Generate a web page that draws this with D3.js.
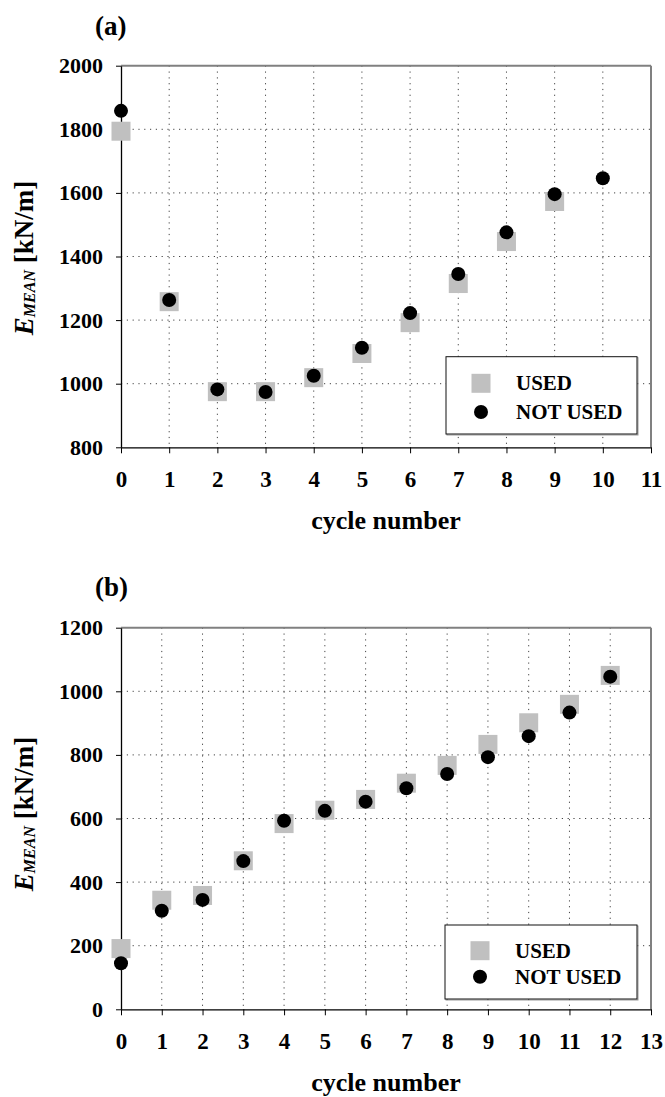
<!DOCTYPE html>
<html>
<head>
<meta charset="utf-8">
<script src="https://cdn.jsdelivr.net/npm/d3@7"></script>
<style>
  body { margin: 0; background: #fff; }
  svg text { font-family: "Liberation Serif", "Times New Roman", Times, serif; font-weight: bold; fill: #000; }
</style>
</head>
<body>
<div id="fig"></div>
<script>
// --------------------------------------
// Data
const cyclesA = [0, 1, 2, 3, 4, 5, 6, 7, 8, 9, 10];
const usedA = [1794, 1258, 975, 975, 1019, 1095, 1192, 1315, 1447, 1573]; // no value at cycle 10
const notUsedA = [1858, 1263, 982, 974, 1025, 1113, 1222, 1345, 1476, 1596, 1646];
const yTicksA = [800, 1000, 1200, 1400, 1600, 1800, 2000];
const xTicksA = [0, 1, 2, 3, 4, 5, 6, 7, 8, 9, 10, 11];

const cyclesB = [0, 1, 2, 3, 4, 5, 6, 7, 8, 9, 10, 11, 12];
const usedB = [191, 343, 358, 467, 584, 626, 660, 711, 767, 833, 901, 959, 1050];
const notUsedB = [145, 310, 344, 466, 593, 624, 653, 695, 740, 793, 859, 933, 1046];
const yTicksB = [0, 200, 400, 600, 800, 1000, 1200];
const xTicksB = [0, 1, 2, 3, 4, 5, 6, 7, 8, 9, 10, 11, 12, 13];

const legendLabels = ["USED", "NOT USED"];

const params = {
    elementId: "#fig",
    width: 665,
    height: 1097,
}

class panelChart {
    constructor(svg, p) {
        // plot area
        const left = 121, right = 651;
        const g = svg.append("g");

        const x = d3.scaleLinear().domain([p.xTicks[0], p.xTicks[p.xTicks.length - 1]]).range([left, right]);
        const y = d3.scaleLinear().domain([p.yTicks[0], p.yTicks[p.yTicks.length - 1]]).range([p.bottom, p.top]);

        // dotted grid
        g.append("g").selectAll("line")
            .data(p.xTicks.slice(1, -1))
            .join("line")
            .attr("x1", d => x(d)).attr("x2", d => x(d))
            .attr("y1", p.top).attr("y2", p.bottom)
            .attr("stroke", "#444").attr("stroke-width", 1)
            .attr("stroke-dasharray", "1.2,4.6");
        g.append("g").selectAll("line")
            .data(p.yTicks.slice(1, -1))
            .join("line")
            .attr("x1", left).attr("x2", right)
            .attr("y1", d => y(d)).attr("y2", d => y(d))
            .attr("stroke", "#444").attr("stroke-width", 1)
            .attr("stroke-dasharray", "1.2,4.6");

        // top and right frame in gray
        g.append("line").attr("x1", left).attr("x2", right).attr("y1", p.top).attr("y2", p.top)
            .attr("stroke", "#808080").attr("stroke-width", 2);
        g.append("line").attr("x1", right).attr("x2", right).attr("y1", p.top).attr("y2", p.bottom)
            .attr("stroke", "#808080").attr("stroke-width", 2);

        // axes
        const yAxis = g.append("g")
            .attr("transform", "translate(" + left + ",0)")
            .call(d3.axisLeft(y).tickValues(p.yTicks).tickFormat(d3.format("d"))
                .tickSizeInner(5).tickSizeOuter(0).tickPadding(13));
        yAxis.selectAll("text").style("font-size", "22px");
        const xAxis = g.append("g")
            .attr("transform", "translate(0," + p.bottom + ")")
            .call(d3.axisBottom(x).tickValues(p.xTicks).tickFormat(d3.format("d"))
                .tickSizeInner(6).tickSizeOuter(0).tickPadding(17));
        xAxis.selectAll("text").style("font-size", "23px");
        g.selectAll(".domain").attr("stroke", "#000").attr("stroke-width", 1.3);
        g.selectAll(".tick line").attr("stroke", "#000");

        // markers: squares first, dots on top
        const sq = 19;
        g.append("g").selectAll("rect")
            .data(p.used.map((v, i) => [p.cycles[i], v]))
            .join("rect")
            .attr("x", d => x(d[0]) - sq / 2)
            .attr("y", d => y(d[1]) - sq / 2)
            .attr("width", sq).attr("height", sq)
            .attr("fill", "#c0c0c0");
        g.append("g").selectAll("circle")
            .data(p.notUsed.map((v, i) => [p.cycles[i], v]))
            .join("circle")
            .attr("cx", d => x(d[0]))
            .attr("cy", d => y(d[1]))
            .attr("r", 7)
            .attr("fill", "#000");

        // legend
        const L = p.legend;
        g.append("rect").attr("x", L.x + 1).attr("y", L.y + 1).attr("width", L.w).attr("height", L.h)
            .attr("fill", "none").attr("stroke", "#999").attr("stroke-width", 1);
        g.append("rect").attr("x", L.x).attr("y", L.y).attr("width", L.w).attr("height", L.h)
            .attr("fill", "#fff").attr("stroke", "#111").attr("stroke-width", 1);
        g.append("rect").attr("x", L.x + 35 - sq / 2).attr("y", L.y + L.r1 - sq / 2)
            .attr("width", sq).attr("height", sq).attr("fill", "#c0c0c0");
        g.append("circle").attr("cx", L.x + 35).attr("cy", L.y + L.r2).attr("r", 7).attr("fill", "#000");
        g.selectAll("text.leg")
            .data(legendLabels)
            .join("text")
            .attr("class", "leg")
            .attr("x", L.x + 70)
            .attr("y", (d, i) => L.y + (i === 0 ? L.r1 : L.r2))
            .attr("dy", "0.34em")
            .style("font-size", "21px")
            .text(d => d);

        // panel title
        g.append("text").attr("x", 95).attr("y", p.titleY).style("font-size", "27px").text(p.title);

        // x label
        g.append("text").attr("x", (left + right) / 2).attr("y", p.bottom + 81.4)
            .attr("text-anchor", "middle").style("font-size", "26px").text("cycle number");

        // y label, E with subscript MEAN
        const yl = g.append("text")
            .attr("transform", "translate(33," + p.yLabelMid + ") rotate(-90)")
            .attr("text-anchor", "middle")
            .style("font-size", "27px");
        yl.append("tspan").style("font-style", "italic").text("E");
        yl.append("tspan").style("font-style", "italic").style("font-size", "16px").attr("dy", 2).text("MEAN");
        yl.append("tspan").attr("dy", -2).text(" [kN/m]");
    }
}

function whenDocumentLoaded(action) {
    if (document.readyState === "loading") {
        document.addEventListener("DOMContentLoaded", action);
    } else {
        action();
    }
}

whenDocumentLoaded(() => {
    const svg = d3.select(params.elementId)
        .append("svg")
        .attr("width", params.width)
        .attr("height", params.height);

    new panelChart(svg, {
        title: "(a)", titleY: 35,
        top: 65.7, bottom: 447.3, yLabelMid: 258,
        cycles: cyclesA, used: usedA, notUsed: notUsedA,
        yTicks: yTicksA, xTicks: xTicksA,
        legend: { x: 446, y: 356.7, w: 191, h: 77.3, r1: 26.6, r2: 55.3 },
    });
    new panelChart(svg, {
        title: "(b)", titleY: 596,
        top: 627.7, bottom: 1009.3, yLabelMid: 814,
        cycles: cyclesB, used: usedB, notUsed: notUsedB,
        yTicks: yTicksB, xTicks: xTicksB,
        legend: { x: 445, y: 925, w: 192, h: 74, r1: 25.7, r2: 51.7 },
    });
});
</script>
</body>
</html>
